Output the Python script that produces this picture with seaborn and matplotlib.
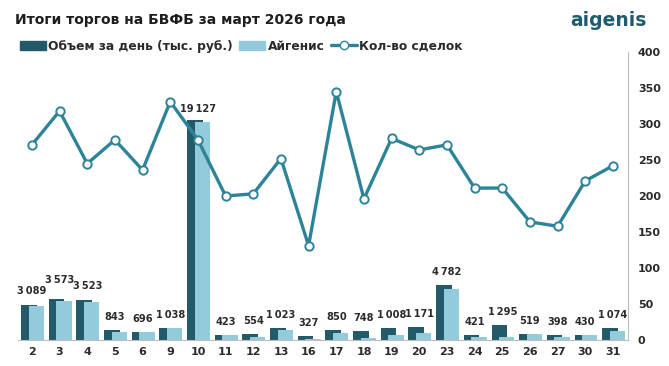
import numpy as np
import pandas as pd
import matplotlib
matplotlib.use("Agg")
import matplotlib.pyplot as plt
from matplotlib.patches import Patch
from matplotlib.lines import Line2D
import seaborn as sns

sns.set_style("white")
plt.rcParams['font.family'] = ['DejaVu Sans']

# data
days = ['2', '3', '4', '5', '6', '9', '10', '11', '12', '13', '16',
        '17', '18', '19', '20', '23', '24', '25', '26', '27', '30', '31']
volume = [3089, 3573, 3523, 843, 696, 1038, 19127, 423, 554, 1023, 327,
          850, 748, 1008, 1171, 4782, 421, 1295, 519, 398, 430, 1074]
aigenis = [2950, 3400, 3320, 700, 690, 1030, 19000, 420, 300, 870, 80,
           600, 200, 470, 650, 4400, 250, 300, 510, 250, 420, 820]
deals = [271, 318, 245, 278, 236, 331, 278, 200, 203, 252, 131,
         345, 196, 280, 264, 271, 211, 211, 164, 158, 221, 242]

c_dark = '#235a69'
c_light = '#93cbdc'
c_line = '#2d8499'
c_text = '#2b2b2b'

df = pd.DataFrame({'day': days, 'volume': volume, 'aigenis': aigenis, 'deals': deals})
n = len(days)

fig = plt.figure(figsize=(6.69, 3.66), dpi=100)
ax = fig.add_axes([0.027, 0.071, 0.912, 0.787])

bw = 0.56
sns.barplot(data=df, x='day', y='volume', color=c_dark, width=bw, ax=ax,
            saturation=1, errorbar=None, linewidth=0)
for p in ax.patches:
    p.set_x(p.get_x() - 0.11)
k = len(ax.patches)
sns.barplot(data=df, x='day', y='aigenis', color=c_light, width=bw, ax=ax,
            saturation=1, errorbar=None, linewidth=0)
for p in ax.patches[k:]:
    p.set_x(p.get_x() + 0.16)

ax.set_xlim(-0.5, n - 0.45)
ax.set_ylim(0, 25070)
ax.set_xlabel('')
ax.set_ylabel('')
ax.set_yticks([])
for s in ['left', 'top', 'right']:
    ax.spines[s].set_visible(False)
ax.spines['bottom'].set_color('#bdbdbd')
ax.tick_params(axis='x', length=0, pad=5, labelsize=8, labelcolor=c_text)
for t in ax.get_xticklabels():
    t.set_fontweight('bold')

# value labels over groups (a few nudged up where they would collide)
nudge = {'3': 6, '10': -2}
for i, (d, v, a) in enumerate(zip(days, volume, aigenis)):
    lab = f"{v:,}".replace(',', '\u2009')
    ax.annotate(lab, (i, max(v, a)), xytext=(0, 9.4 + nudge.get(d, 0) * 0.72),
                textcoords='offset points', ha='center', va='center',
                fontsize=7.1, fontweight='bold', color=c_text, zorder=5)

ax2 = ax.twinx()
sns.lineplot(x=np.arange(n), y=deals, ax=ax2, color=c_line, lw=2.4,
             marker='o', markersize=6, markerfacecolor='white',
             markeredgecolor=c_line, markeredgewidth=1.4)
ax2.set_ylim(0, 400)
ax2.set_yticks(range(0, 401, 50))
ax2.set_xlim(-0.5, n - 0.45)
for s in ['left', 'top', 'bottom']:
    ax2.spines[s].set_visible(False)
ax2.spines['right'].set_color('#bdbdbd')
ax2.tick_params(axis='y', length=0, pad=7, labelsize=8, labelcolor=c_text)
for t in ax2.get_yticklabels():
    t.set_fontweight('bold')

fig.text(0.022, 0.945, 'Итоги торгов на БВФБ за март 2026 года', fontsize=10,
         fontweight='bold', color='#1e1e1e', va='center', ha='left')
fig.text(0.852, 0.945, 'aigenis', fontsize=13.5, fontweight='bold',
         color='#1f5a6e', va='center', ha='left')

handles = [Patch(color=c_dark), Patch(color=c_light),
           Line2D([], [], color=c_line, lw=2.4, marker='o', markersize=6,
                  markerfacecolor='white', markeredgecolor=c_line)]
labels = ['Объем за день (тыс. руб.)', 'Айгенис', 'Кол-во сделок']
leg = fig.legend(handles, labels, loc='center left', bbox_to_anchor=(0.022, 0.874),
                 ncol=3, frameon=False, handlelength=2.15, handleheight=0.7,
                 handletextpad=0.2, columnspacing=0.5, borderaxespad=0,
                 prop={'weight': 'bold', 'size': 8.8})
for t in leg.get_texts():
    t.set_color(c_text)

fig.savefig('out.png', dpi=100)
